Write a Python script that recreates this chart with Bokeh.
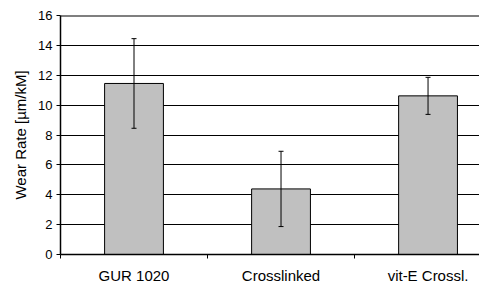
from bokeh.plotting import figure
from bokeh.models import Range1d, FixedTicker, Whisker, ColumnDataSource, TeeHead, Span
from bokeh.embed import file_html
from bokeh.resources import INLINE

categories = ["GUR 1020", "Crosslinked", "vit-E Crossl."]
wear_rate = [11.45, 4.39, 10.62]
wear_err = [3.0, 2.52, 1.24]
y_ticks = [0, 2, 4, 6, 8, 10, 12, 14, 16]
y_label = "Wear Rate [\u00b5m/kM]"

xpos = [i + 0.5 for i in range(len(categories))]
src = ColumnDataSource(dict(
    x=xpos,
    top=wear_rate,
    upper=[v + e for v, e in zip(wear_rate, wear_err)],
    lower=[v - e for v, e in zip(wear_rate, wear_err)],
))

FONT = "Liberation Sans"

p = figure(width=479, height=286, output_backend="svg", toolbar_location=None,
           x_range=Range1d(0, 2.85), y_range=Range1d(0, 16),
           min_border_left=60, min_border_right=0, min_border_top=15, min_border_bottom=0)
p.outline_line_color = None
p.background_fill_color = "white"
p.border_fill_color = "white"

# grid
p.xgrid.visible = False
p.ygrid.ticker = FixedTicker(ticks=y_ticks)
p.ygrid.grid_line_color = "black"
p.ygrid.grid_line_width = 1

p.vbar(x="x", top="top", bottom=0, width=0.4, source=src,
       fill_color="#C0C0C0", line_color="black", line_width=1)

p.add_layout(Whisker(base="x", upper="upper", lower="lower", source=src,
                     level="overlay",
                     line_color="black", line_width=1,
                     upper_head=TeeHead(size=5, line_color="black", line_width=1),
                     lower_head=TeeHead(size=5, line_color="black", line_width=1)))

p.add_layout(Span(location=16, dimension="width", line_color="black", line_width=2))

# y axis
ya = p.yaxis[0]
ya.ticker = FixedTicker(ticks=y_ticks, minor_ticks=[])
ya.axis_label = y_label
ya.axis_label_text_font = FONT
ya.axis_label_text_font_size = "15px"
ya.axis_label_text_font_style = "normal"
ya.axis_label_text_color = "black"
ya.axis_label_standoff = 6
ya.major_label_text_font = FONT
ya.major_label_text_font_size = "13px"
ya.major_label_text_color = "black"
ya.major_label_standoff = 4
ya.major_tick_out = 4
ya.major_tick_in = 0
ya.major_tick_line_color = "black"
ya.axis_line_color = "black"
ya.axis_line_width = 1.5

# x axis
xa = p.xaxis[0]
xa.ticker = FixedTicker(ticks=xpos, minor_ticks=[0, 1, 2, 3])
xa.major_label_overrides = {x: c for x, c in zip(xpos, categories)}
xa.major_label_text_font = FONT
xa.major_label_text_font_size = "15px"
xa.major_label_text_color = "black"
xa.major_label_standoff = 8
xa.major_tick_out = 0
xa.major_tick_in = 0
xa.major_tick_line_color = None
xa.minor_tick_out = 4
xa.minor_tick_in = 0
xa.minor_tick_line_color = "black"
xa.axis_line_color = "black"
xa.axis_line_width = 1.5

open("out.html", "w").write(file_html(p, INLINE))
